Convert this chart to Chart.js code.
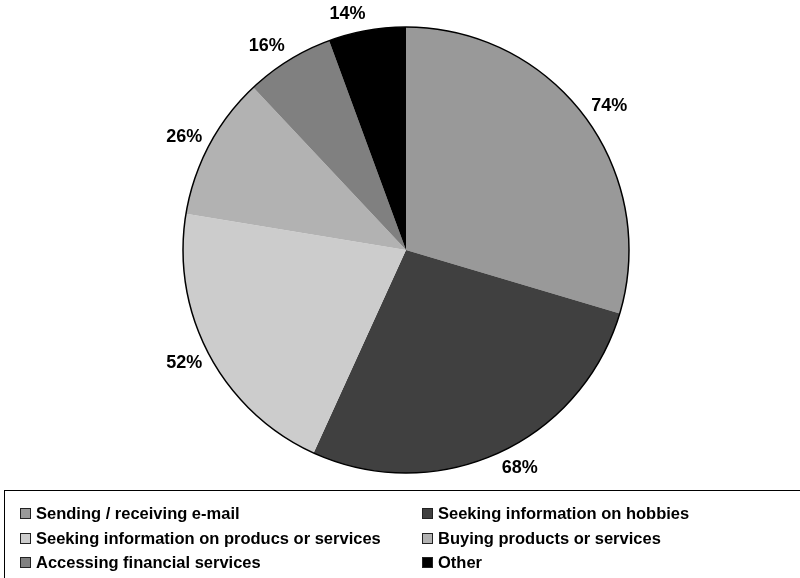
<!DOCTYPE html>
<html>
<head>
<meta charset="utf-8">
<script src="https://cdn.jsdelivr.net/npm/chart.js@4/dist/chart.umd.min.js"></script>
<style>
  html, body { margin: 0; padding: 0; background: #fff; overflow: hidden; }
  body { width: 800px; height: 578px; position: relative; font-family: "Liberation Sans", Arial, sans-serif; }
  #wrap { position: absolute; left: 0; top: 0; width: 800px; height: 500px; }
  #legend { position: absolute; left: 4px; top: 490px; width: 820px; height: 120px; border: 1px solid #000; box-sizing: border-box; }
  .item { position: absolute; font-weight: bold; font-size: 16.5px; color: #000; white-space: nowrap; line-height: 18px; }
  .item span.box { display: inline-block; width: 9px; height: 9px; border: 1px solid #222; margin-right: 5px; vertical-align: 0px; }
</style>
</head>
<body>
<div id="wrap"><canvas id="pie"></canvas></div>
<div id="legend"></div>
<script>
var categories = [
    'Sending / receiving e-mail',
    'Seeking information on hobbies',
    'Seeking information on producs or services',
    'Buying products or services',
    'Accessing financial services',
    'Other'
];
var values = [74, 68, 52, 26, 16, 14];
var sliceColors = ['#999999', '#404040', '#cccccc', '#b2b2b2', '#808080', '#000000'];

// outer circle only (no lines between slices)
var outlinePlugin = {
    id: 'outline',
    afterDatasetsDraw: function (chart) {
        var arc = chart.getDatasetMeta(0).data[0];
        var ctx = chart.ctx;
        ctx.save();
        ctx.beginPath();
        ctx.arc(arc.x, arc.y, arc.outerRadius, 0, Math.PI * 2);
        ctx.lineWidth = 1.5;
        ctx.strokeStyle = '#000';
        ctx.stroke();
        ctx.restore();
    }
};

// percent labels outside each slice, box pushed clear of the edge
var labelPlugin = {
    id: 'pctLabels',
    afterDatasetsDraw: function (chart) {
        var ctx = chart.ctx;
        var meta = chart.getDatasetMeta(0);
        ctx.save();
        ctx.font = 'bold 18px "Liberation Sans", Arial, sans-serif';
        ctx.fillStyle = '#000';
        ctx.textAlign = 'center';
        ctx.textBaseline = 'middle';
        meta.data.forEach(function (arc, i) {
            var mid = (arc.startAngle + arc.endAngle) / 2;
            var ux = Math.cos(mid), uy = Math.sin(mid);
            var txt = values[i] + '%';
            var w = ctx.measureText(txt).width;
            var r = arc.outerRadius + 8;
            var x = arc.x + r * ux + (w / 2) * (ux < 0 ? -1 : 1);
            var y = arc.y + r * uy + 9 * uy;
            ctx.fillText(txt, x, y);
        });
        ctx.restore();
    }
};

var chart = new Chart(document.getElementById('pie').getContext('2d'), {
    type: 'pie',
    data: {
        labels: categories,
        datasets: [{
            data: values,
            backgroundColor: sliceColors,
            borderWidth: 0
        }]
    },
    options: {
        responsive: true,
        maintainAspectRatio: false,
        animation: false,
        layout: { padding: { top: 27, bottom: 27, left: 12, right: 0 } },
        plugins: {
            legend: { display: false },
            tooltip: { enabled: false }
        }
    },
    plugins: [outlinePlugin, labelPlugin]
});

// html legend, two columns
var legend = document.getElementById('legend');
var colX = [15, 417];
var rowY = [13, 38, 62];
categories.forEach(function (name, i) {
    var div = document.createElement('div');
    div.className = 'item';
    div.style.left = colX[i % 2] + 'px';
    div.style.top = rowY[Math.floor(i / 2)] + 'px';
    var box = document.createElement('span');
    box.className = 'box';
    box.style.background = sliceColors[i];
    div.appendChild(box);
    div.appendChild(document.createTextNode(name));
    legend.appendChild(div);
});
</script>
</body>
</html>
